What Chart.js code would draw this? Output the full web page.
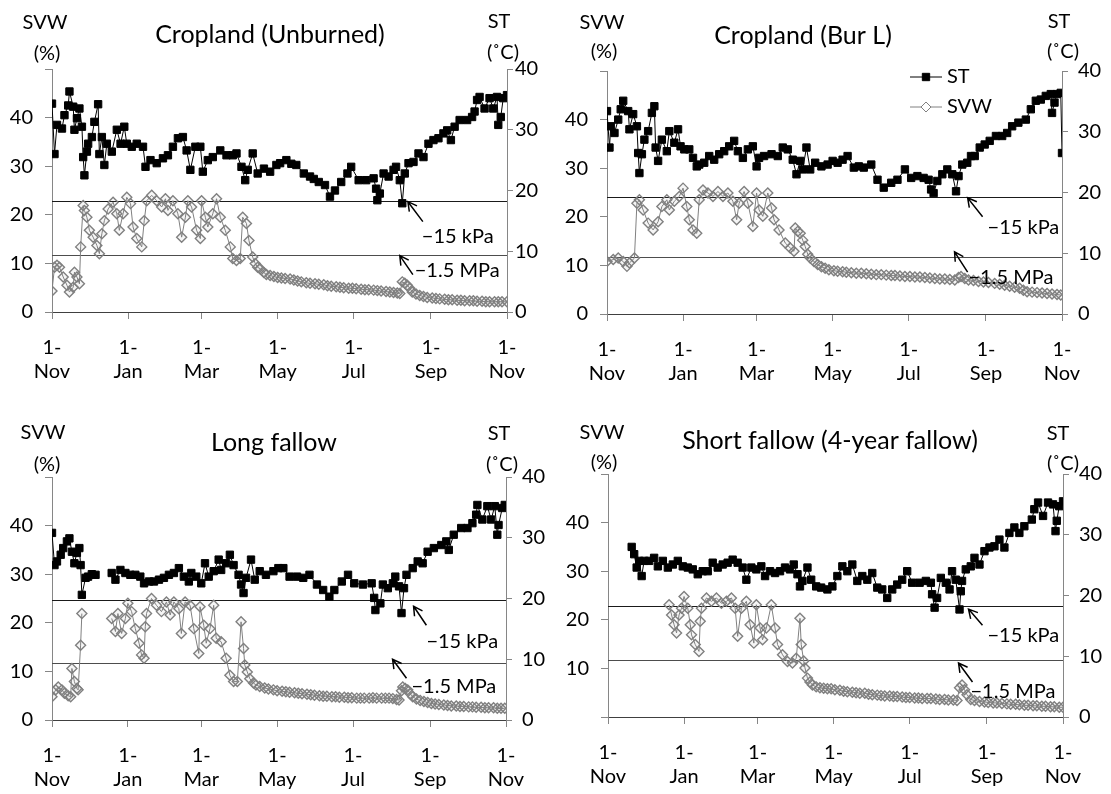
<!DOCTYPE html>
<html lang="en">
<head>
<meta charset="UTF-8">
<title>SVW and ST</title>
<script src="https://cdn.jsdelivr.net/npm/chart.js"></script>
<style>
  body { margin: 0; background: #fff; }
  #wrap { position: relative; width: 1111px; height: 794px; background: #fff; }
  canvas { position: absolute; }
</style>
</head>
<body>
<div id="wrap">
  <canvas id="chartCU" width="555" height="397" style="left:0;top:0"></canvas>
  <canvas id="chartCB" width="556" height="397" style="left:555px;top:0"></canvas>
  <canvas id="chartLF" width="555" height="397" style="left:0;top:397px"></canvas>
  <canvas id="chartSF" width="556" height="397" style="left:555px;top:397px"></canvas>
</div>
<script>
// x = days counted from 1 Nov
var monthTicks = [0, 61, 120, 181, 242, 304, 365];
var monthNames = ['Nov', 'Jan', 'Mar', 'May', 'Jul', 'Sep', 'Nov'];
var seriesNames = ['ST', 'SVW'];

// Cropland (Unburned)
var cuStDays = [0,2,4,8,10,13,14,17,18,20,22,24,25,26,28,29,32,34,37,38,40,42,44,48,52,55,58,60,64,68,73,75,79,84,89,93,97,101,105,108,111,115,119,121,125,129,135,140,145,148,152,155,157,161,165,170,175,180,183,188,192,196,202,207,210,214,219,223,227,232,237,240,246,252,258,260,261,263,266,270,274,276,279,281,283,286,290,294,298,302,306,310,314,317,320,323,327,333,337,339,341,343,347,351,354,357,358,360,362,365];
var cuSt = [34.3,26.0,30.8,30.2,32.4,34.0,36.3,33.8,30.0,31.9,33.5,30.5,25.5,22.5,26.4,27.7,28.8,31.3,34.2,26.0,28.8,24.2,27.7,26.4,30.0,27.7,30.5,27.7,27.2,27.7,27.2,23.9,25.0,24.5,25.3,25.8,27.2,28.6,28.8,26.6,23.4,27.2,27.2,23.1,25.0,25.5,26.6,25.8,25.8,26.1,23.9,21.7,23.4,26.1,22.8,23.6,23.1,24.2,24.5,25.0,24.4,24.2,22.8,22.3,21.9,21.4,20.9,19.0,20.0,21.4,22.8,23.9,21.7,21.7,22.0,20.3,18.4,19.5,22.8,22.3,23.4,23.9,21.7,17.9,22.8,24.5,24.7,26.1,25.5,27.7,28.3,28.6,29.4,29.9,28.3,30.5,31.6,31.6,32.1,33.0,34.9,35.4,33.5,35.2,33.5,35.4,30.8,32.1,35.2,35.7];
var cuSvwDays = [0,2,4,6,9,12,14,17,18,20,22,23,25,26,28,30,33,36,38,40,42,45,49,52,54,57,60,63,65,68,72,74,76,80,84,88,91,93,97,101,104,107,109,112,116,119,120,123,125,129,132,135,139,143,145,148,151,153,156,158,161,163,165,167,170,172,175,178,181,184,187,191,194,197,200,204,207,211,214,218,221,224,228,231,234,238,241,244,248,251,254,258,261,264,268,271,274,277,279,281,283,285,287,289,292,295,298,301,305,308,311,315,318,321,325,328,331,335,338,341,345,348,351,355,358,361,365];
var cuSvw = [4.3,9.2,9.6,9.2,7.2,5.5,4.1,5.1,8.2,7.2,5.8,13.4,21.9,20.9,19.5,16.8,15.4,13.7,12.0,16.1,18.8,21.2,22.6,20.2,16.8,20.2,23.6,22.3,17.5,15.1,13.4,18.8,22.9,24.0,22.9,21.6,23.3,20.9,22.9,20.2,15.4,19.5,22.9,21.6,16.8,15.1,22.9,19.5,17.5,20.2,23.3,19.5,16.8,13.4,11.0,10.6,11.0,19.5,18.2,14.7,11.3,10.0,9.2,8.9,8.1,7.7,7.5,7.3,7.1,7.0,6.9,6.8,6.6,6.4,6.2,6.0,5.9,5.8,5.7,5.6,5.4,5.3,5.2,5.1,5.0,4.9,4.9,4.8,4.7,4.6,4.6,4.5,4.4,4.3,4.2,4.1,4.0,3.9,3.8,6.2,5.9,5.5,4.9,4.1,3.7,3.4,3.2,3.0,2.9,2.8,2.7,2.6,2.5,2.5,2.4,2.4,2.3,2.3,2.3,2.2,2.2,2.1,2.1,2.1,2.1,2.1,2.1];
var cuLines = [22.9, 11.8];

// Cropland (Bur L)
var cbStDays = [0,2,3,6,9,11,13,17,18,21,24,25,26,28,30,33,36,38,39,41,44,48,50,54,57,59,62,66,69,72,74,78,82,86,90,94,98,102,105,109,113,117,120,122,126,132,137,141,145,149,152,155,157,160,163,167,172,177,181,185,189,193,198,202,206,212,217,222,228,233,239,244,249,254,258,260,262,265,269,273,277,280,282,285,289,292,295,299,303,307,312,317,321,325,330,336,340,344,348,352,356,357,359,361,364,365];
var cbSt = [33.4,27.4,30.9,29.8,32.0,33.7,35.1,33.4,30.4,32.9,30.9,26.5,23.2,26.3,28.7,30.1,33.1,34.2,27.4,25.2,28.7,26.8,30.1,28.2,30.4,27.6,27.1,27.1,25.7,24.3,24.6,24.9,26.0,25.4,26.3,26.8,27.6,28.5,26.8,25.7,27.1,27.6,24.3,25.7,26.0,26.3,26.0,27.4,27.1,25.4,23.0,25.2,23.8,27.4,23.8,24.9,24.3,24.6,25.2,24.9,25.4,26.0,24.1,24.3,24.1,24.6,22.1,20.8,21.6,22.1,23.8,22.4,22.7,22.4,22.1,20.5,19.9,21.9,23.0,23.8,23.0,20.2,22.7,24.6,24.9,26.0,26.0,27.4,27.9,28.5,29.3,29.3,29.8,30.9,31.5,32.0,33.7,35.1,35.3,35.9,36.2,33.1,34.8,36.2,36.4,26.5];
var cbSvwDays = [0,5,9,13,16,18,22,24,26,29,33,37,41,44,48,50,54,58,61,64,66,69,72,74,77,81,85,89,93,97,101,104,106,110,113,117,120,122,125,129,132,134,138,143,147,150,151,153,155,157,159,161,163,166,169,172,175,178,182,185,189,192,196,200,204,208,212,216,220,224,228,231,235,239,243,247,251,255,259,263,267,271,275,279,282,284,287,290,294,298,302,306,311,315,319,323,327,331,334,337,341,345,349,353,357,361,364];
var cbSvw = [10.8,11.2,11.5,10.8,9.8,10.5,11.5,22.8,23.5,21.4,18.7,17.3,19.0,22.1,23.5,21.4,23.2,24.2,25.9,22.1,19.4,17.3,16.6,23.5,25.5,24.9,24.2,25.2,24.2,24.9,23.2,19.4,22.8,25.2,22.8,18.0,24.9,21.4,20.1,24.9,21.8,19.4,17.3,14.6,13.6,12.9,17.7,17.0,16.6,15.2,13.9,12.3,11.5,10.8,10.2,9.7,9.4,9.1,8.9,8.8,8.7,8.6,8.5,8.4,8.4,8.3,8.2,8.1,8.1,8.0,7.9,7.9,7.8,7.7,7.7,7.6,7.6,7.5,7.4,7.3,7.2,7.2,7.1,7.0,7.5,7.7,7.3,7.0,6.9,6.7,6.6,6.5,6.3,6.1,5.9,5.7,5.5,5.3,4.9,4.6,4.5,4.4,4.3,4.2,4.1,4.0,3.9];
var cbLines = [24.0, 11.7];

// Long fallow
var lfStDays = [0,2,4,7,9,12,14,16,18,20,22,23,24,27,29,32,35,40,48,51,55,59,63,67,71,74,78,82,86,90,94,98,102,106,110,112,116,120,123,126,130,134,136,140,143,146,150,152,154,156,160,163,167,172,178,182,186,191,197,202,207,213,218,223,227,233,238,243,250,257,259,260,264,266,270,274,276,279,281,283,285,290,294,298,302,307,313,317,319,323,329,334,338,341,342,346,350,353,356,358,359,362,364];
var lfSt = [30.8,25.5,26.1,27.2,28.3,29.4,29.9,27.7,25.8,27.5,28.3,25.5,20.6,23.4,23.6,24.0,23.9,null,24.2,23.1,24.7,24.2,23.9,23.9,23.6,22.5,22.8,22.8,23.1,23.4,23.9,24.2,25.0,23.6,22.8,24.2,23.6,22.5,25.8,23.6,24.5,26.4,24.7,25.8,27.2,25.5,23.9,22.3,20.9,23.4,26.4,23.1,24.5,23.9,24.5,25.0,25.0,23.6,23.6,23.4,23.9,22.3,21.4,20.3,21.4,22.8,23.9,22.5,22.3,22.5,20.1,18.1,19.2,22.3,21.7,22.5,23.6,22.0,17.6,21.7,23.9,25.0,26.1,25.8,27.7,28.3,28.8,29.4,28.0,30.5,31.6,31.6,32.4,33.8,35.4,33.0,35.2,33.0,35.2,30.5,32.1,34.9,35.4];
var lfSvwDays = [0,3,5,8,10,13,15,16,18,20,21,23,24,36,48,51,53,56,59,61,64,67,70,72,74,75,76,80,84,88,92,95,98,102,104,107,111,114,118,119,122,124,127,130,132,136,140,143,146,149,152,154,155,157,159,162,164,167,171,174,178,181,185,188,191,195,198,201,205,208,211,215,218,221,225,228,231,235,238,241,245,248,251,255,258,261,265,268,271,274,277,279,281,282,284,286,288,290,293,296,299,302,305,308,311,315,318,321,325,328,331,335,338,341,345,348,351,355,358,361,364];
var lfSvw = [4.8,6.2,6.8,6.2,5.5,5.0,4.8,10.6,7.9,6.5,6.2,15.4,21.9,null,20.9,18.2,21.9,17.8,20.9,24.0,22.3,18.8,15.8,13.4,12.7,19.2,21.9,25.0,23.6,22.3,24.3,21.6,24.3,22.9,17.8,24.3,23.6,18.8,13.7,23.3,19.5,15.8,18.8,23.6,16.8,16.1,12.7,9.2,7.9,7.9,20.2,14.7,11.3,9.9,8.5,7.6,7.2,6.9,6.6,6.4,6.2,6.0,5.9,5.8,5.7,5.6,5.5,5.4,5.3,5.2,5.1,5.0,4.9,4.9,4.8,4.8,4.7,4.7,4.6,4.6,4.5,4.5,4.5,4.5,4.6,4.5,4.5,4.5,4.5,4.4,4.2,4.1,6.0,6.8,6.5,6.2,5.4,4.8,4.3,4.0,3.8,3.6,3.4,3.3,3.2,3.1,3.0,2.9,2.9,2.8,2.8,2.7,2.7,2.6,2.6,2.5,2.5,2.5,2.4,2.4,2.4];
var lfLines = [24.7, 11.8];

// Short fallow (4-year fallow)
var sfStDays = [19,21,23,25,27,29,33,37,40,44,48,52,56,60,64,68,72,76,80,84,88,92,96,100,104,108,111,115,119,123,126,130,134,138,142,146,149,152,154,156,160,163,167,171,176,180,184,188,192,196,200,204,208,212,216,220,224,228,232,236,240,244,250,255,259,260,262,264,267,271,274,276,279,282,283,284,287,291,294,298,302,306,310,314,318,322,326,330,334,340,342,345,349,353,357,359,360,362,365];
var sfSt = [28.0,26.8,24.6,25.7,23.2,25.7,25.7,26.2,24.8,25.7,24.6,25.1,25.7,24.8,24.6,24.3,23.5,24.0,24.0,25.4,24.6,25.1,25.4,25.9,25.4,24.6,22.6,24.6,24.3,24.8,23.2,24.0,23.7,24.0,24.6,24.3,25.1,23.5,21.5,22.4,24.6,22.6,21.5,21.3,21.0,21.5,23.2,24.8,24.0,25.1,22.4,23.2,22.6,23.7,21.3,21.0,19.6,21.0,21.8,22.6,24.0,22.1,22.1,22.4,22.1,20.2,18.0,19.6,22.9,22.1,21.0,24.0,22.6,17.7,20.7,22.4,24.3,24.8,26.2,25.1,27.3,27.9,28.1,29.2,27.9,30.3,31.2,30.3,31.4,32.5,34.2,35.3,33.1,35.3,35.0,30.6,32.3,34.7,35.5];
var sfSvwDays = [49,51,53,55,57,59,61,64,66,67,70,73,74,75,79,83,87,91,95,99,102,104,107,111,114,117,119,122,124,127,131,134,136,140,144,148,151,154,155,157,158,160,162,164,167,170,173,176,179,182,186,189,192,196,199,202,206,209,212,216,219,222,226,229,232,236,239,242,246,249,252,256,259,263,266,270,273,277,280,282,284,286,288,291,294,298,302,305,309,312,316,320,323,327,330,334,337,341,344,348,351,355,358,362,365];
var sfSvw = [23.1,21.0,19.0,17.3,21.0,22.4,24.8,22.4,19.0,16.9,14.9,13.5,19.7,22.4,24.5,23.8,24.5,23.4,23.8,24.5,22.4,16.6,22.4,23.8,19.0,15.2,23.1,18.3,15.9,18.3,23.1,18.3,14.9,12.8,11.4,11.1,12.1,20.3,14.9,11.5,10.1,8.0,7.2,6.6,6.2,6.0,5.9,5.8,5.8,5.6,5.5,5.3,5.2,5.1,5.0,4.9,4.9,4.7,4.6,4.5,4.4,4.3,4.3,4.2,4.2,4.1,4.0,4.0,3.9,3.9,3.8,3.8,3.8,3.7,3.6,3.6,3.5,3.5,3.4,6.0,6.6,5.6,4.6,3.6,3.4,3.2,3.1,3.0,2.9,2.9,2.8,2.7,2.6,2.6,2.5,2.4,2.4,2.3,2.3,2.2,2.2,2.1,2.1,2.0,2.0];
var sfLines = [22.9, 11.8];

var FONT = 'Lato, "Open Sans", sans-serif';
var ST_COLOR = '#000000';
var SVW_COLOR = '#808080';

var panels = [
    { id: 'chartCU', title: 'Cropland (Unburned)', titleX: 270, titleY: 35,
      area: { left: 52, top: 69, right: 507, bottom: 312 },
      stDays: cuStDays, st: cuSt, svwDays: cuSvwDays, svw: cuSvw, lines: cuLines,
      svwLab: [45, 23, 47, 54], stLab: [499, 22, 503, 53], rightPad: 2, hideZero: false, legend: false,
      kpa: { tip: [285.5, 22.7], tail: [297.5, 18.6], text: [296.7, 15.5] },
      mpa: { tip: [279, 11.6], tail: [289.5, 7.7], text: [291, 8.5] } },
    { id: 'chartCB', title: 'Cropland (Bur L)', titleX: 248, titleY: 36,
      area: { left: 52, top: 71, right: 507, bottom: 314 },
      stDays: cbStDays, st: cbSt, svwDays: cbSvwDays, svw: cbSvw, lines: cbLines,
      svwLab: [47, 23, 49, 52], stLab: [504, 22, 508, 52], rightPad: 10, hideZero: false, legend: true,
      kpa: { tip: [289.3, 23.9], tail: [301.3, 20.0], text: [305.3, 17.7] },
      mpa: { tip: [278.8, 12.8], tail: [289.3, 8.6], text: [290, 7.6] } },
    { id: 'chartLF', title: 'Long fallow', titleX: 274, titleY: 46,
      area: { left: 52, top: 80, right: 506, bottom: 323 },
      stDays: lfStDays, st: lfSt, svwDays: lfSvwDays, svw: lfSvw, lines: lfLines,
      svwLab: [43, 36, 47, 68], stLab: [499, 37, 502, 68], rightPad: 10, hideZero: false, legend: false,
      kpa: { tip: [290.7, 23.4], tail: [301, 19.5], text: [301, 16.2] },
      mpa: { tip: [273.8, 12.5], tail: [285, 8.6], text: [289, 6.8] } },
    { id: 'chartSF', title: 'Short fallow (4-year fallow)', titleX: 275, titleY: 44,
      area: { left: 53, top: 77, right: 508, bottom: 320 },
      stDays: sfStDays, st: sfSt, svwDays: sfSvwDays, svw: sfSvw, lines: sfLines,
      svwLab: [47, 36, 49, 66], stLab: [503, 37, 508, 67], rightPad: 10, hideZero: true, legend: false,
      kpa: { tip: [289.2, 22.2], tail: [300.4, 18.9], text: [304.4, 16.8] },
      mpa: { tip: [281.2, 11.1], tail: [292.4, 7.2], text: [290.8, 5.3] } }
];

function toPoints(days, vals) {
    return days.map(function (d, i) { return { x: d, y: vals[i] }; });
}

function arrow(ctx, x1, y1, x2, y2) {
    // open arrow head at (x2, y2)
    var a = Math.atan2(y2 - y1, x2 - x1);
    ctx.beginPath();
    ctx.moveTo(x1, y1);
    ctx.lineTo(x2, y2);
    ctx.moveTo(x2 - 10 * Math.cos(a - 0.5), y2 - 10 * Math.sin(a - 0.5));
    ctx.lineTo(x2, y2);
    ctx.lineTo(x2 - 10 * Math.cos(a + 0.5), y2 - 10 * Math.sin(a + 0.5));
    ctx.stroke();
}

function makeOverlay(p) {
    return {
        id: 'overlay',
        beforeDatasetsDraw: function (chart) {
            var ctx = chart.ctx, a = chart.chartArea, y = chart.scales.y;
            ctx.save();
            ctx.lineWidth = 1;
            p.lines.forEach(function (v, i) {
                var py = Math.round(y.getPixelForValue(v)) + 0.5;
                ctx.strokeStyle = i === 0 ? '#1a1a1a' : '#4d4d4d';
                ctx.beginPath();
                ctx.moveTo(a.left, py);
                ctx.lineTo(a.right, py);
                ctx.stroke();
            });
            ctx.restore();
        },
        afterDraw: function (chart) {
            var ctx = chart.ctx, x = chart.scales.x, y = chart.scales.y;
            ctx.save();
            ctx.fillStyle = '#000';
            ctx.textAlign = 'center';
            ctx.textBaseline = 'middle';
            ctx.font = '25px ' + FONT;
            ctx.fillText(p.title, p.titleX, p.titleY);
            ctx.font = '20px ' + FONT;
            ctx.fillText('SVW', p.svwLab[0], p.svwLab[1]);
            ctx.fillText('(%)', p.svwLab[2], p.svwLab[3]);
            ctx.fillText('ST', p.stLab[0], p.stLab[1]);
            ctx.fillText('(\u02daC)', p.stLab[2], p.stLab[3]);

            // pressure labels and arrows
            ctx.strokeStyle = '#000';
            ctx.lineWidth = 1.5;
            [['\u221215 kPa', p.kpa], ['\u22121.5 MPa', p.mpa]].forEach(function (n) {
                var o = n[1];
                arrow(ctx, x.getPixelForValue(o.tail[0]), y.getPixelForValue(o.tail[1]),
                    x.getPixelForValue(o.tip[0]), y.getPixelForValue(o.tip[1]));
                ctx.textAlign = 'left';
                ctx.fillText(n[0], x.getPixelForValue(o.text[0]), y.getPixelForValue(o.text[1]));
            });

            if (p.legend) {
                var rows = [[77, chart.data.datasets[0], ST_COLOR], [107, chart.data.datasets[1], '#ffffff']];
                rows.forEach(function (r) {
                    var ds = r[1], ly = r[0];
                    ctx.strokeStyle = ds.borderColor;
                    ctx.lineWidth = 1;
                    ctx.beginPath();
                    ctx.moveTo(355, ly);
                    ctx.lineTo(387, ly);
                    ctx.stroke();
                    ctx.fillStyle = r[2];
                    ctx.strokeStyle = ds.pointBorderColor;
                    Chart.helpers.drawPoint(ctx, {
                        pointStyle: ds.pointStyle, radius: ds.pointRadius, rotation: 0,
                        borderWidth: ds.pointBorderWidth
                    }, 371, ly);
                    ctx.fillStyle = '#000';
                    ctx.textAlign = 'left';
                    ctx.fillText(ds.label, 392, ly);
                });
            }
            ctx.restore();
        }
    };
}

function axisGrid(color, len) {
    return { drawOnChartArea: false, drawTicks: true, tickLength: len, color: color };
}

panels.forEach(function (p) {
    var W = document.getElementById(p.id).width, H = 397;
    var LEFT_W = 50, RIGHT_W = 45, X_H = 72;
    new Chart(document.getElementById(p.id).getContext('2d'), {
        type: 'line',
        data: {
            datasets: [{
                label: seriesNames[0],
                data: toPoints(p.stDays, p.st),
                yAxisID: 'y2',
                borderColor: ST_COLOR,
                borderWidth: 1,
                pointStyle: 'rect',
                pointRadius: 5.2,
                pointBackgroundColor: ST_COLOR,
                pointBorderColor: ST_COLOR,
                pointBorderWidth: 1,
                spanGaps: false,
                tension: 0
            }, {
                label: seriesNames[1],
                data: toPoints(p.svwDays, p.svw),
                yAxisID: 'y',
                borderColor: SVW_COLOR,
                borderWidth: 1,
                pointStyle: 'rectRot',
                pointRadius: 5,
                pointBackgroundColor: 'rgba(128,128,128,0.08)',
                pointBorderColor: SVW_COLOR,
                pointBorderWidth: 1.4,
                spanGaps: false,
                tension: 0
            }]
        },
        options: {
            responsive: false,
            animation: false,
            layout: { padding: {
                left: p.area.left - LEFT_W, right: W - p.area.right - RIGHT_W,
                top: p.area.top, bottom: H - p.area.bottom - X_H } },
            plugins: { legend: { display: false }, tooltip: { enabled: false } },
            scales: {
                x: {
                    type: 'linear', min: 0, max: 365,
                    afterBuildTicks: function (s) { s.ticks = monthTicks.map(function (v) { return { value: v }; }); },
                    afterFit: function (s) { s.height = X_H; },
                    grid: axisGrid('#868686', 7),
                    border: { display: true, color: '#404040', width: 1 },
                    ticks: {
                        autoSkip: false, maxRotation: 0, padding: 17, color: '#000',
                        font: { family: FONT, size: 20 },
                        callback: function (v) { return ['1-', monthNames[monthTicks.indexOf(v)]]; }
                    }
                },
                y: {
                    position: 'left', min: 0, max: 50,
                    afterFit: function (s) { s.width = LEFT_W; },
                    grid: axisGrid('#868686', 7),
                    border: { display: true, color: '#868686', width: 1 },
                    ticks: {
                        stepSize: 10, padding: 12, color: '#000',
                        font: { family: FONT, size: 20 },
                        callback: function (v) {
                            if (v === 50 || (p.hideZero && v === 0)) return '';
                            return v;
                        }
                    }
                },
                y2: {
                    position: 'right', min: 0, max: 40,
                    afterFit: function (s) { s.width = RIGHT_W; },
                    grid: axisGrid('#868686', 6),
                    border: { display: true, color: '#868686', width: 1 },
                    ticks: {
                        stepSize: 10, padding: p.rightPad, color: '#000',
                        font: { family: FONT, size: 20 }
                    }
                }
            }
        },
        plugins: [makeOverlay(p)]
    });
});
</script>
</body>
</html>
